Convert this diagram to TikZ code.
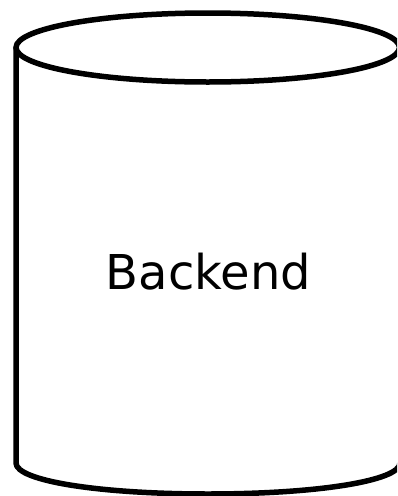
\documentclass[tikz,border=0pt]{standalone}
\usepackage{fontspec}
\setmainfont{DejaVu Sans}
\begin{document}
\begin{tikzpicture}[x=1pt,y=-1pt,
  outline/.style={draw=black,line width=5.5pt,line join=round}]
\useasboundingbox (0,0) rectangle (397,496);
\clip (0,0) rectangle (397,496);
\draw[outline] (16,47) -- (16,463) .. controls (16,481) and (100,494) .. (208,494) .. controls (316,494) and (400,481) .. (400,463) -- (400,47);
\draw[outline] (207.75,47.5) ellipse [x radius=191.75, y radius=34.5];
\node[inner sep=0pt,font=\fontsize{48}{56}\selectfont] (label) at (208.5,272) {Backend};
\end{tikzpicture}
\end{document}
